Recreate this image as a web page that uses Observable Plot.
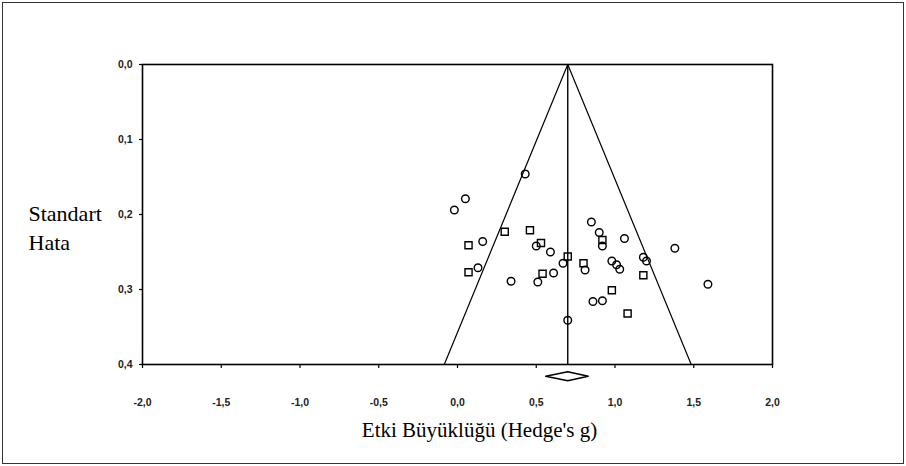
<!DOCTYPE html>
<html>
<head>
<meta charset="utf-8">
<script src="https://cdn.jsdelivr.net/npm/d3@7"></script>
<script src="https://cdn.jsdelivr.net/npm/@observablehq/plot@0.6"></script>
<style>
  html, body { margin: 0; padding: 0; background: #fff; }
  #chart { width: 906px; height: 466px; position: relative; }
  #chart svg { display: block; outline: 1.5px solid #333; outline-offset: -3px; }
</style>
</head>
<body>
<div id="chart"></div>
<script>
// Study effect sizes (Hedge's g) and standard errors
const effects = [0.43, 0.05, -0.02, 0.30, 0.46, 0.07, 0.16, 0.53, 0.50, 0.59,
                 0.07, 0.13, 0.34, 0.51, 0.54, 0.61, 0.70, 0.67, 0.70, 0.85,
                 0.90, 0.92, 0.92, 1.06, 0.80, 0.81, 0.98, 1.01, 1.03, 1.18,
                 1.20, 1.18, 1.38, 1.59, 0.98, 0.86, 0.92, 1.08];
const stdErrors = [0.146, 0.179, 0.194, 0.223, 0.221, 0.241, 0.236, 0.238, 0.242, 0.250,
                   0.277, 0.271, 0.289, 0.290, 0.279, 0.278, 0.256, 0.265, 0.341, 0.210,
                   0.224, 0.234, 0.242, 0.232, 0.265, 0.274, 0.262, 0.267, 0.273, 0.257,
                   0.262, 0.281, 0.245, 0.293, 0.301, 0.316, 0.315, 0.332];
const shapes = ["circle","circle","circle","square","square","square","circle","square","circle","circle",
                "square","circle","circle","circle","square","circle","square","circle","circle","circle",
                "circle","square","circle","circle","square","circle","circle","circle","circle","circle",
                "circle","square","circle","circle","square","circle","circle","square"];

// Pooled effect and its confidence interval
const pooledEffect = 0.70;
const pooledLow = 0.56;
const pooledHigh = 0.83;
const maxSE = 0.4;

// Axis ticks
const xTickValues = [-2.0, -1.5, -1.0, -0.5, 0.0, 0.5, 1.0, 1.5, 2.0];
const xTickLabels = ["-2,0", "-1,5", "-1,0", "-0,5", "0,0", "0,5", "1,0", "1,5", "2,0"];
const yTickValues = [0.0, 0.1, 0.2, 0.3, 0.4];
const yTickLabels = ["0,0", "0,1", "0,2", "0,3", "0,4"];

const xLabel = "Etki Büyüklüğü (Hedge's g)";
const yLabel = "Standart\nHata";

const studies = effects.map((g, i) => ({g, se: stdErrors[i], shape: shapes[i]}));
const funnel = [
  {x: pooledEffect - 1.96 * maxSE, y: maxSE},
  {x: pooledEffect, y: 0},
  {x: pooledEffect + 1.96 * maxSE, y: maxSE}
];
// diamond for pooled estimate, drawn just below the plot frame
const dMid = 0.4157, dHalf = 0.006;
const diamond = [
  {x: pooledLow, y: dMid},
  {x: pooledEffect, y: dMid - dHalf},
  {x: pooledHigh, y: dMid},
  {x: pooledEffect, y: dMid + dHalf},
  {x: pooledLow, y: dMid}
];

const tickFont = "'Liberation Sans Narrow', 'Liberation Sans', sans-serif";
const serif = "'Liberation Serif', 'DejaVu Serif', serif";

const chart = Plot.plot({
  width: 906,
  height: 466,
  marginLeft: 142,
  marginRight: 134,
  marginTop: 64,
  marginBottom: 102,
  style: {background: "#fff", color: "#000"},
  x: {domain: [-2, 2]},
  y: {domain: [0, 0.4], reverse: true},
  marks: [
    Plot.frame({stroke: "#000", strokeWidth: 1.6}),
    Plot.axisX({
      ticks: xTickValues,
      tickFormat: (d) => xTickLabels[xTickValues.indexOf(d)],
      tickSize: 4, tickPadding: 30, label: null,
      fontSize: 10.5, fontFamily: tickFont, fontWeight: "bold", fill: "#222",
      stroke: "#000", strokeWidth: 1.2
    }),
    Plot.axisY({
      ticks: yTickValues,
      tickFormat: (d) => yTickLabels[yTickValues.indexOf(d)],
      tickSize: 3, tickPadding: 7, label: null,
      fontSize: 10.5, fontFamily: tickFont, fontWeight: "bold", fill: "#222",
      stroke: "#000", strokeWidth: 1.2
    }),
    Plot.ruleX([pooledEffect], {y1: 0, y2: maxSE, stroke: "#000", strokeWidth: 1.4}),
    Plot.line(funnel, {x: "x", y: "y", stroke: "#000", strokeWidth: 1.2}),
    Plot.dot(studies.filter(d => d.shape === "circle"), {
      x: "g", y: "se", symbol: "circle", r: 3.8,
      stroke: "#000", fill: "none", strokeWidth: 1.4
    }),
    Plot.dot(studies.filter(d => d.shape === "square"), {
      x: "g", y: "se", symbol: "square", r: 4,
      stroke: "#000", fill: "none", strokeWidth: 1.4
    }),
    Plot.line(diamond, {x: "x", y: "y", stroke: "#000", strokeWidth: 1.4, fill: "none"}),
    Plot.text([xLabel], {
      frameAnchor: "bottom", dx: 22, dy: 72,
      fontFamily: serif, fontSize: 21, fill: "#000"
    }),
    Plot.text([yLabel], {
      frameAnchor: "left", textAnchor: "start", dx: -114, dy: 12,
      lineHeight: 1.32, fontFamily: serif, fontSize: 22, fill: "#000"
    })
  ]
});

document.getElementById("chart").appendChild(chart);
</script>
</body>
</html>
